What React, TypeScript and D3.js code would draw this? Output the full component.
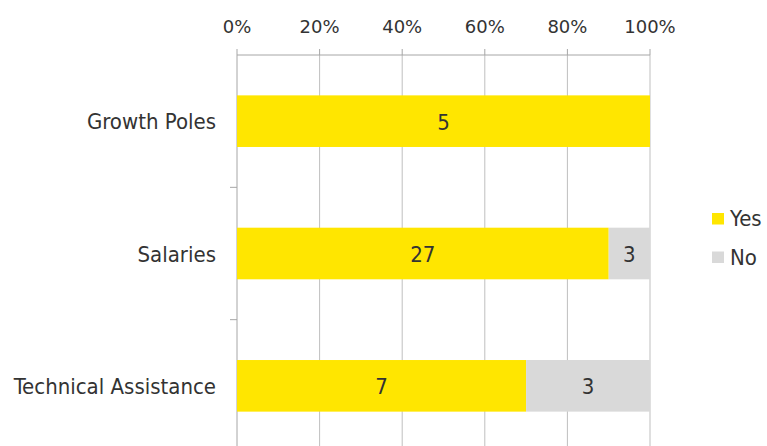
import React from "react";
import * as d3 from "d3";

const categories = ["Growth Poles", "Salaries", "Technical Assistance"];
const yesValues = [5, 27, 7];
const noValues = [0, 3, 3];
const seriesNames = ["Yes", "No"];
const tickValues = [0, 0.2, 0.4, 0.6, 0.8, 1];

const W = 767;
const H = 446;
const colors = ["#FFE600", "#D9D9D9"];
const condensed = "'DejaVu Sans Condensed', 'Liberation Sans Narrow', 'Liberation Sans', Arial, sans-serif";
const wide = "'DejaVu Sans', 'Liberation Sans', Arial, sans-serif";

export default function App() {
  const left = 237, right = 650, top = 55, bottom = 452;
  const x = d3.scaleLinear().domain([0, 1]).range([left, right]);
  const y = d3.scaleBand().domain(categories).range([top, bottom]).paddingInner(0.61).paddingOuter(0.305);
  const rows = categories.map((c, i) => ({ c, vals: [yesValues[i], noValues[i]] }));
  const stackData = rows.map((r) => {
    const total = r.vals[0] + r.vals[1];
    let acc = 0;
    return r.vals.map((v, k) => {
      const s = { x0: acc / total, x1: (acc + v) / total, v, k, c: r.c };
      acc += v;
      return s;
    });
  });
  const bandStep = (bottom - top) / categories.length;
  const separators = d3.range(1, categories.length).map((i) => top + i * bandStep);

  return (
    <svg width={W} height={H} style={{ position: "absolute", left: 0, top: 0 }} fontFamily={condensed}>
      <rect width={W} height={H} fill="#fff" />
      {tickValues.slice(1).map((t) => (
        <line key={t} x1={x(t)} x2={x(t)} y1={top} y2={H} stroke="#BFBFBF" strokeWidth={1} />
      ))}
      <line x1={left} x2={right} y1={top} y2={top} stroke="#A6A6A6" />
      {tickValues.map((t) => (
        <g key={t}>
          <line x1={x(t)} x2={x(t)} y1={top - 6} y2={top} stroke="#A6A6A6" />
          <text x={x(t)} y={33} textAnchor="middle" fontSize={18} fontFamily={wide} fill="#333">
            {d3.format(".0%")(t)}
          </text>
        </g>
      ))}
      <line x1={left} x2={left} y1={top} y2={H} stroke="#A6A6A6" />
      {separators.map((s) => (
        <line key={s} x1={left - 7} x2={left} y1={s} y2={s} stroke="#A6A6A6" />
      ))}
      {stackData.map((segs, i) => (
        <g key={i}>
          {segs.map((s) =>
            s.v > 0 ? (
              <g key={s.k}>
                <rect x={x(s.x0)} y={y(s.c)} width={x(s.x1) - x(s.x0)} height={y.bandwidth()} fill={colors[s.k]} />
                <text x={(x(s.x0) + x(s.x1)) / 2} y={(y(s.c) as number) + y.bandwidth() / 2 + 8.5} textAnchor="middle" fontSize={22} fill="#333">
                  {s.v}
                </text>
              </g>
            ) : null
          )}
          <text x={216} y={(y(categories[i]) as number) + y.bandwidth() / 2 + 8} textAnchor="end" fontSize={22} fill="#333">
            {categories[i]}
          </text>
        </g>
      ))}
      {seriesNames.map((n, k) => (
        <g key={n} transform={`translate(712, ${213 + k * 38.5})`}>
          <rect width={12} height={11.5} fill={colors[k]} />
          <text x={18} y={13} fontSize={22} fill="#333">{n}</text>
        </g>
      ))}
    </svg>
  );
}
